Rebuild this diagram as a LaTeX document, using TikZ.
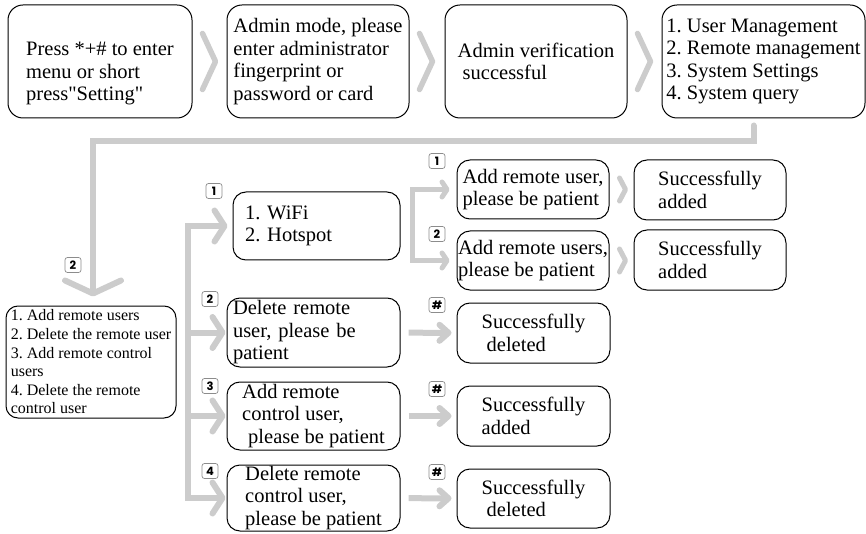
\documentclass[tikz,border=0pt]{standalone}
\usepackage{fontspec}
\setmainfont{Liberation Serif}
\newfontfamily\quotefont{Liberation Serif}[Ligatures=TeXOff]
\newfontfamily\tagfont{Poppins}
\usepackage{tikz}
\usetikzlibrary{positioning,calc,arrows.meta}
\definecolor{flowgray}{RGB}{204,204,204}
\definecolor{taggray}{RGB}{140,140,140}
\newcommand{\boxfont}{\fontsize{20.5}{22.5}\selectfont}
\newcommand{\listfont}{\fontsize{16}{18.6}\selectfont}
\frenchspacing

\begin{document}
\begin{tikzpicture}[x=1pt, y=-1pt,
    menu box/.style={draw, line width=1pt, rounded corners=13pt, align=left, inner sep=0pt, font=\boxfont},
    top box/.style={menu box, rounded corners=15pt, minimum height=113pt},
    num tag/.style={draw=taggray, line width=0.7pt, rounded corners=2.5pt, minimum width=16pt, minimum height=15pt, inner sep=0pt, font=\tagfont\bfseries\fontsize{11.5}{11.5}\selectfont},
    gray flow/.style={draw=flowgray, line width=6pt},
    chevron/.style={draw=flowgray, line width=5.5pt, line cap=round, line join=round},
    branch arrow/.style={gray flow, -{Straight Barb[length=10pt, width=31pt, round]}},
    hash arrow/.style={gray flow, -{Straight Barb[length=9pt, width=16pt, round]}, shorten <=8pt, shorten >=5pt},
    node distance=34pt]
    \useasboundingbox (0,0) rectangle (866,534);

    % first row
    \node[top box, minimum width=184pt] (press) at (100,61.5) {\rule{0pt}{38pt}Press *+\# to enter\\menu or short\\press{\quotefont"}Setting{\quotefont"}};
    \node[top box, minimum width=182pt, right=of press] (admin) {Admin mode, please\\enter administrator\\fingerprint or\\password or card};
    \node[top box, minimum width=182pt, right=35pt of admin] (verify) {Admin verification\\\hspace*{5pt}successful};
    \node[top box, minimum width=203pt, right=of verify] (menu) {1. User Management\\2. Remote management\\3. System Settings\\4. System query};

    \foreach \a in {press,admin,verify}
        \draw[chevron] ([xshift=10pt,yshift=28pt]\a.east) -- ([xshift=23pt]\a.east) -- ([xshift=10pt,yshift=-28pt]\a.east);

    % remote management
    \node[menu box, font=\listfont, rounded corners=12pt, minimum width=170pt, minimum height=112pt] (remote) at (91,362) {1. Add remote users\\2. Delete the remote user\\3. Add remote control\\users\\4. Delete the remote\\control user};
    \draw[gray flow, line cap=round, -{Straight Barb[length=13pt, width=56pt, round]}]
        ([xshift=-10pt,yshift=-7pt]menu.south) -- ++(0,16) -| ([xshift=2pt,yshift=9pt]remote.north);
    \node[num tag] (tagremote) at (73,265) {2};

    \node[menu box, text width=143pt, inner xsep=12pt, minimum height=68pt] (wifi) at (316.5,226) {1. WiFi\\2. Hotspot};
    \node[menu box, text width=161pt, inner xsep=6pt, minimum height=69pt] (delu) at (313.5,332.5) {Delete remote\\user, please be\\patient};
    \node[menu box, minimum width=173pt, minimum height=68pt] (addc) at (313.5,416) {Add remote\\control user,\\\hspace*{6pt}please be patient};
    \node[menu box, minimum width=173pt, minimum height=66pt] (delc) at (313.5,498) {Delete remote\\control user,\\please be patient};

    \coordinate (trunk) at ([xshift=11pt]remote.east);
    \draw[branch arrow, shorten >=5pt] (trunk |- delc.west) -- (trunk |- wifi.west) -- (wifi.west);
    \draw[branch arrow, shorten >=1pt] (trunk |- wifi.west) -- (trunk |- delc.west) -- (delc.west);
    \draw[branch arrow, shorten >=1pt] (trunk |- delu.west) -- (delu.west);
    \draw[branch arrow, shorten >=1pt] (trunk |- addc.west) -- (addc.west);
    \node[num tag] (tagwifi) at (214,191) {1};
    \node[num tag] (tagdelu) at (210,299) {2};
    \node[num tag] (tagaddc) at (210,386) {3};
    \node[num tag] (tagdelc) at (210,471) {4};

    % wifi / hotspot
    \node[menu box, minimum width=152pt, minimum height=59pt] (addwifi) at (533,189.5) {Add remote user,\\please be patient};
    \node[menu box, minimum width=152pt, minimum height=59pt] (addhot) at (533,260.5) {Add remote users,\\please be patient};
    \node[menu box, minimum width=152pt, minimum height=60pt] (okwifi) at (710,190) {Successfully\\added};
    \node[menu box, minimum width=152pt, minimum height=60pt] (okhot) at (710,260) {Successfully\\added};

    \coordinate (fork) at ([xshift=12pt]wifi.east);
    \draw[draw=flowgray, line width=5pt, {Straight Barb[length=5pt, width=15pt, round]}-{Straight Barb[length=5pt, width=15pt, round]}, shorten <=7pt, shorten >=7pt]
        (addwifi.west) -- (addwifi.west -| fork) -- (addhot.west -| fork) -- (addhot.west);
    \node[num tag] (tagaddwifi) at (437,161) {1};
    \node[num tag] (tagaddhot) at (437,234) {2};
    \foreach \a in {addwifi,addhot}
        \draw[chevron, line width=5pt] ([xshift=10pt,yshift=11.5pt]\a.east) -- ([xshift=16pt]\a.east) -- ([xshift=10pt,yshift=-11.5pt]\a.east);

    % results
    \node[menu box, minimum width=153pt, minimum height=60pt] (okdelu) at (533.5,333) {Successfully\\\hspace*{5pt}deleted};
    \node[menu box, minimum width=153pt, minimum height=60pt] (okaddc) at (533.5,416) {Successfully\\added};
    \node[menu box, minimum width=153pt, minimum height=59pt] (okdelc) at (533.5,498.5) {Successfully\\\hspace*{5pt}deleted};
    \draw[hash arrow] (delu) -- (okdelu);
    \draw[hash arrow] (addc) -- (okaddc);
    \draw[hash arrow] (delc) -- (okdelc);
    \node[num tag] (hashdelu) at (437,305) {\#};
    \node[num tag] (hashaddc) at (437,389) {\#};
    \node[num tag] (hashdelc) at (437,472) {\#};
\end{tikzpicture}
\end{document}
